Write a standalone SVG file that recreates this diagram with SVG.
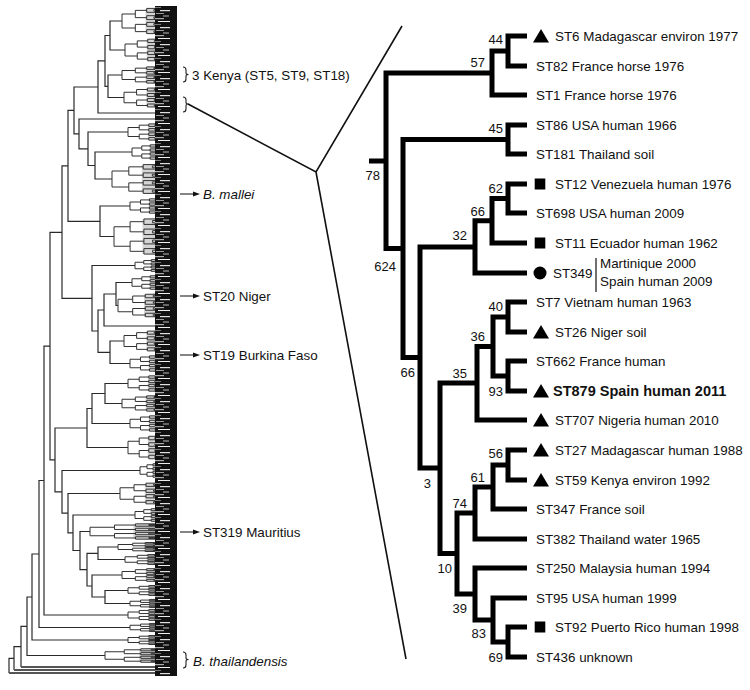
<svg xmlns="http://www.w3.org/2000/svg" xmlns:xlink="http://www.w3.org/1999/xlink" width="750" height="690" viewBox="0 0 750 690">
<style>
text{font-family:"Liberation Sans",Arial,sans-serif;fill:#111}
.lbl{font-size:13.4px}
.bs{font-size:13px;text-anchor:end}
.it{font-style:italic}
.ov{fill:none;stroke:#2a2a2a;stroke-width:1.2}
.br{fill:none;stroke:#000;stroke-width:5;stroke-linejoin:miter;stroke-linecap:butt}
.zl{fill:none;stroke:#111;stroke-width:1.6}
.thin{fill:none;stroke:#222;stroke-width:1.1}
</style>
<defs>
<g id="fan">
<polygon points="62,6 100,2 100,98 62,94" fill="#888" fill-opacity="0.35"/>
<path d="M35 25H0V75H35M65 12H35V38H65M65 62H35V88H65M100 5H65V19H100M100 31H65V45H100M100 55H65V69H100M100 81H65V95H100M100 9H84V15H100M100 35H84V41H100M100 59H84V65H100M100 85H84V91H100" fill="none" stroke="#333" stroke-width="1" vector-effect="non-scaling-stroke"/>
</g>
<pattern id="streak" patternUnits="userSpaceOnUse" x="155" y="0" width="22" height="17">
<rect x="0" y="1" width="9" height="1.2" fill="#aaa"/>
<rect x="3" y="4" width="12" height="1" fill="#eee"/>
<rect x="0" y="7" width="6" height="1" fill="#777"/>
<rect x="5" y="10" width="10" height="1.2" fill="#ddd"/>
<rect x="1" y="13" width="8" height="1" fill="#999"/>
<rect x="8" y="15.5" width="6" height="1" fill="#bbb"/>
</pattern>
<polygon id="tri" points="-8,6.5 8,6.5 0,-7" fill="#000"/>
<rect id="sq" x="-5.3" y="-5.5" width="10.6" height="11" fill="#000"/>
<polygon id="ah" points="-7,-2.6 0,0 -7,2.6" fill="#111"/>
</defs>
<rect width="750" height="690" fill="#fff"/>

<g id="overview-tree">
<path class="ov" d="M122 21H110V50H125M122 75H108V97.5H124M110 35.5H105V86.3H108M105 60.9H98V113H160M132 152H95V179H112M128 132H88V165.5H95M160 119H79V148.8H88M98 87H74V133.9H79M130 206H100V236.5H114M74 110.4H68V221.3H100M132 282.5H116V305.5H118M116 294H104V326H160M124 341H110V363.5H130M104 310H98V352.3H110M135 265.5H92V331H98M68 165.8H62V298.3H92M128 383.5H105V403.5H122M105 393.5H92V423.5H130M92 408.5H87V447.5H128M128 590.5H105V603.5H130M122 575H92V597H105M118 547H98V559.5H125M98 553.3H87V586H92M90 531.5H80V569.6H87M135 515H73V550.5H80M120 493.5H68V532.8H73M140 470.5H62V513.1H68M87 428H55V491.8H62M62 232.3H50V459.9H55M50 346.1H44V615H128M44 480.5H39V627.5H130M39 554H32V640H128M32 597H27V655.5H105M27 626.3H21V667M21 646.6H14V670M14 658.3H9V673"/>
<path d="M21 667H160M14 670H160M9 673H160" fill="none" stroke="#555" stroke-width="1.8"/>
<use xlink:href="#fan" transform="translate(122,7) scale(0.38,0.28)"/>
<use xlink:href="#fan" transform="translate(125,38) scale(0.35,0.24)"/>
<use xlink:href="#fan" transform="translate(122,66) scale(0.38,0.18)"/>
<use xlink:href="#fan" transform="translate(124,87) scale(0.36,0.21)"/>
<use xlink:href="#fan" transform="translate(128,123) scale(0.32,0.18)"/>
<use xlink:href="#fan" transform="translate(132,144) scale(0.28,0.16)"/>
<use xlink:href="#fan" transform="translate(112,163) scale(0.48,0.32)"/>
<use xlink:href="#fan" transform="translate(130,198) scale(0.30,0.16)"/>
<use xlink:href="#fan" transform="translate(114,217) scale(0.46,0.39)"/>
<use xlink:href="#fan" transform="translate(135,259) scale(0.25,0.13)"/>
<use xlink:href="#fan" transform="translate(132,275) scale(0.28,0.15)"/>
<use xlink:href="#fan" transform="translate(118,293) scale(0.42,0.25)"/>
<use xlink:href="#fan" transform="translate(124,330) scale(0.36,0.22)"/>
<use xlink:href="#fan" transform="translate(130,355) scale(0.30,0.17)"/>
<use xlink:href="#fan" transform="translate(128,375) scale(0.32,0.17)"/>
<use xlink:href="#fan" transform="translate(122,395) scale(0.38,0.17)"/>
<use xlink:href="#fan" transform="translate(130,415) scale(0.30,0.17)"/>
<use xlink:href="#fan" transform="translate(128,435) scale(0.32,0.25)"/>
<use xlink:href="#fan" transform="translate(140,463) scale(0.20,0.15)"/>
<use xlink:href="#fan" transform="translate(120,482) scale(0.40,0.23)"/>
<use xlink:href="#fan" transform="translate(135,508) scale(0.25,0.14)"/>
<use xlink:href="#fan" transform="translate(90,523) scale(0.70,0.17)"/>
<use xlink:href="#fan" transform="translate(118,542) scale(0.42,0.10)"/>
<use xlink:href="#fan" transform="translate(125,554) scale(0.35,0.11)"/>
<use xlink:href="#fan" transform="translate(122,568) scale(0.38,0.14)"/>
<use xlink:href="#fan" transform="translate(128,585) scale(0.32,0.11)"/>
<use xlink:href="#fan" transform="translate(130,599) scale(0.30,0.09)"/>
<use xlink:href="#fan" transform="translate(128,609) scale(0.32,0.12)"/>
<use xlink:href="#fan" transform="translate(130,623) scale(0.30,0.09)"/>
<use xlink:href="#fan" transform="translate(128,635) scale(0.32,0.10)"/>
<use xlink:href="#fan" transform="translate(105,648) scale(0.55,0.15)"/>
<rect x="155" y="6" width="22" height="670" fill="#111"/>
<rect x="155" y="6" width="22" height="670" fill="url(#streak)"/>
</g>

<g id="overview-labels">
<g id="kenya">
<path class="thin" d="M183 67Q186 67 186 70V73Q186 74.5 188.5 74.5Q186 74.5 186 76V79Q186 82 183 82"/>
<text class="lbl" x="192" y="80">3 Kenya (ST5, ST9, ST18)</text>
</g>
<g id="clade-bracket">
<path class="thin" d="M183 97Q186 97 186 100V102.5Q186 104 188.5 104Q186 104 186 105.5V109Q186 112 183 112"/>
</g>
<g id="mallei"><line class="thin" x1="180" y1="194" x2="196" y2="194"/><use xlink:href="#ah" x="200" y="194"/><text class="lbl it" x="203" y="199">B. mallei</text></g>
<g id="st20"><line class="thin" x1="180" y1="296" x2="196" y2="296"/><use xlink:href="#ah" x="200" y="296"/><text class="lbl" x="203" y="301">ST20 Niger</text></g>
<g id="st19"><line class="thin" x1="180" y1="355" x2="196" y2="355"/><use xlink:href="#ah" x="200" y="355"/><text class="lbl" x="203" y="360">ST19 Burkina Faso</text></g>
<g id="st319"><line class="thin" x1="180" y1="532" x2="196" y2="532"/><use xlink:href="#ah" x="200" y="532"/><text class="lbl" x="203" y="537">ST319 Mauritius</text></g>
<g id="thailandensis">
<path class="thin" d="M183 652Q186 652 186 655V658Q186 659.5 188.5 659.5Q186 659.5 186 661V665Q186 668 183 668"/>
<text class="lbl it" x="193" y="666">B. thailandensis</text>
</g>
</g>

<g id="connectors">
<path class="zl" d="M188 104L316 172L402 26M316 172L406 659"/>
<path class="br" d="M527 36H508V66H527M508 51H492V95H527M492 73H386V248.5H403M369 161H386M527 125H508V154H527M508 139.5H403V357.5H420M527 184H508V213H527M508 198.5H492V243H527M492 220.8H475V273H527M475 247H420V468H440M527 302H508V332H527M527 361H508V391H527M508 317H493V376H508M493 346.5H477V420H527M477 383H440V553.5H457M527 450H508V480H527M508 465H493V509H527M493 487H475V539H527M527 627H508V657H527M527 598H493V642H508M527 568H475V620H493M475 513H457V594H475"/>
</g>

<g id="bootstrap">
<text class="bs" x="503" y="44">44</text>
<text class="bs" x="485" y="67">57</text>
<text class="bs" x="380" y="180">78</text>
<text class="bs" x="503" y="133">45</text>
<text class="bs" x="503" y="193">62</text>
<text class="bs" x="485" y="216">66</text>
<text class="bs" x="467" y="240">32</text>
<text class="bs" x="396" y="271">624</text>
<text class="bs" x="503" y="311">40</text>
<text class="bs" x="485" y="341">36</text>
<text class="bs" x="415" y="377">66</text>
<text class="bs" x="467" y="378">35</text>
<text class="bs" x="503" y="396">93</text>
<text class="bs" x="503" y="458">56</text>
<text class="bs" x="485" y="482">61</text>
<text class="bs" x="431" y="488">3</text>
<text class="bs" x="467" y="508">74</text>
<text class="bs" x="452" y="573">10</text>
<text class="bs" x="467" y="613">39</text>
<text class="bs" x="486" y="638">83</text>
<text class="bs" x="503" y="662">69</text>
</g>

<g id="leaves">
<g id="st6"><use xlink:href="#tri" x="541" y="36"/><text class="lbl" x="555" y="41">ST6 Madagascar environ 1977</text></g>
<g id="st82"><text class="lbl" x="536" y="71">ST82 France horse 1976</text></g>
<g id="st1"><text class="lbl" x="536" y="100">ST1 France horse 1976</text></g>
<g id="st86"><text class="lbl" x="536" y="130">ST86 USA human 1966</text></g>
<g id="st181"><text class="lbl" x="536" y="159">ST181 Thailand soil</text></g>
<g id="st12"><use xlink:href="#sq" x="540" y="184"/><text class="lbl" x="555" y="189">ST12 Venezuela human 1976</text></g>
<g id="st698"><text class="lbl" x="536" y="218">ST698 USA human 2009</text></g>
<g id="st11"><use xlink:href="#sq" x="540" y="243"/><text class="lbl" x="555" y="248">ST11 Ecuador human 1962</text></g>
<g id="st349"><circle cx="540" cy="273" r="6.5" fill="#000"/><text class="lbl" x="553" y="278">ST349</text><line x1="596" y1="258" x2="596" y2="292" stroke="#111" stroke-width="1.2"/><text class="lbl" x="600" y="268">Martinique 2000</text><text class="lbl" x="600" y="286">Spain human 2009</text></g>
<g id="st7"><text class="lbl" x="536" y="307">ST7 Vietnam human 1963</text></g>
<g id="st26"><use xlink:href="#tri" x="541" y="332"/><text class="lbl" x="555" y="337">ST26 Niger soil</text></g>
<g id="st662"><text class="lbl" x="536" y="366">ST662 France human</text></g>
<g id="st879"><use xlink:href="#tri" x="541" y="391"/><text x="553" y="396" style="font-size:14.5px;font-weight:bold">ST879 Spain human 2011</text></g>
<g id="st707"><use xlink:href="#tri" x="541" y="420"/><text class="lbl" x="555" y="425">ST707 Nigeria human 2010</text></g>
<g id="st27"><use xlink:href="#tri" x="541" y="450"/><text class="lbl" x="555" y="455">ST27 Madagascar human 1988</text></g>
<g id="st59"><use xlink:href="#tri" x="541" y="480"/><text class="lbl" x="555" y="485">ST59 Kenya environ 1992</text></g>
<g id="st347"><text class="lbl" x="536" y="514">ST347 France soil</text></g>
<g id="st382"><text class="lbl" x="536" y="544">ST382 Thailand water 1965</text></g>
<g id="st250"><text class="lbl" x="536" y="573">ST250 Malaysia human 1994</text></g>
<g id="st95"><text class="lbl" x="536" y="603">ST95 USA human 1999</text></g>
<g id="st92"><use xlink:href="#sq" x="540" y="627"/><text class="lbl" x="555" y="632">ST92 Puerto Rico human 1998</text></g>
<g id="st436"><text class="lbl" x="536" y="662">ST436 unknown</text></g>
</g>
</svg>
